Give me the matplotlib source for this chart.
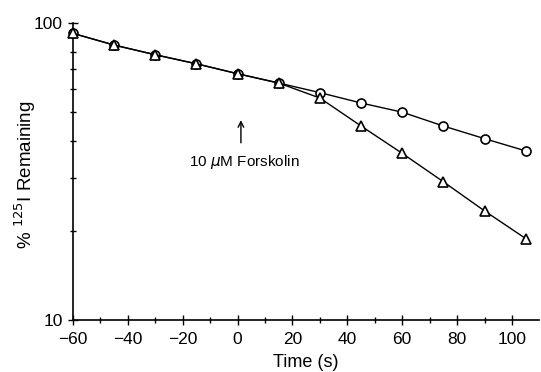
import matplotlib
matplotlib.use("Agg")
import matplotlib.pyplot as plt
from matplotlib.ticker import FixedLocator, NullFormatter

plt.rcParams["font.family"] = ["Liberation Sans", "DejaVu Sans"]

# time points (s)
time = [-60, -45, -30, -15, 0, 15, 30, 45, 60, 75, 90, 105]
# % 125I remaining, control (circles)
control = [92.3, 84.3, 78.2, 72.9, 67.5, 62.8, 58.3, 53.8, 50.1, 45.0, 40.8, 37.1]
# % 125I remaining, forskolin added at t = 0 (triangles)
forskolin = [92.3, 84.3, 78.2, 72.9, 67.5, 62.8, 55.9, 45.0, 36.4, 29.2, 23.3, 18.8]

x_ticks = [-60, -40, -20, 0, 20, 40, 60, 80, 100]
y_ticks = [10, 100]

fig = plt.figure(figsize=(5.41, 3.72), dpi=100)
ax = fig.add_axes([0.135, 0.140, 0.862, 0.798])

ax.plot(time, control, "k-", lw=1.0, marker="o", ms=6.5, mfc="white",
        mec="black", mew=1.2, zorder=3, clip_on=False)
ax.plot(time, forskolin, "k-", lw=1.0, marker="^", ms=6.5, mfc="white",
        mec="black", mew=1.2, zorder=3, clip_on=False)

ax.set_yscale("log")
ax.set_xlim(-60, 110)
ax.set_ylim(10, 100)

ax.spines["top"].set_visible(False)
ax.spines["right"].set_visible(False)
ax.spines["left"].set_linewidth(1.2)
ax.spines["bottom"].set_linewidth(1.2)

ax.xaxis.set_major_locator(FixedLocator(x_ticks))
ax.xaxis.set_minor_locator(FixedLocator([-50, -30, -10, 10, 30, 50, 70, 90]))
ax.yaxis.set_major_locator(FixedLocator(y_ticks))
ax.yaxis.set_minor_locator(FixedLocator([20, 30, 40, 50, 60, 70, 80, 90]))
ax.yaxis.set_minor_formatter(NullFormatter())
ax.set_xticklabels(["\u221260", "\u221240", "\u221220", "0", "20", "40", "60", "80", "100"])
ax.set_yticklabels(["10", "100"])

ax.tick_params(which="major", direction="inout", length=7, width=1.0,
               labelsize=12.5)
ax.tick_params(axis="x", which="major", pad=5)
ax.tick_params(axis="y", which="major", pad=4)
ax.tick_params(which="minor", direction="inout", length=5, width=1.0)

ax.set_xlabel("Time (s)", fontsize=13, va="center")
ax.xaxis.set_label_coords(0.5, -0.145)
ax.set_ylabel("% $^{125}$I Remaining", fontsize=13.5, va="center")
ax.yaxis.set_label_coords(-0.103, 0.49)

# forskolin addition marker
ax.annotate("", xy=(1.2, 47.1), xytext=(1.2, 39.5),
            arrowprops=dict(arrowstyle="->", color="black", lw=1.0,
                            shrinkA=0, shrinkB=0))
ax.text(2.5, 34.0, "10 $\\mu$M Forskolin", fontsize=11, ha="center", va="center")

fig.savefig("out.png", dpi=100)
